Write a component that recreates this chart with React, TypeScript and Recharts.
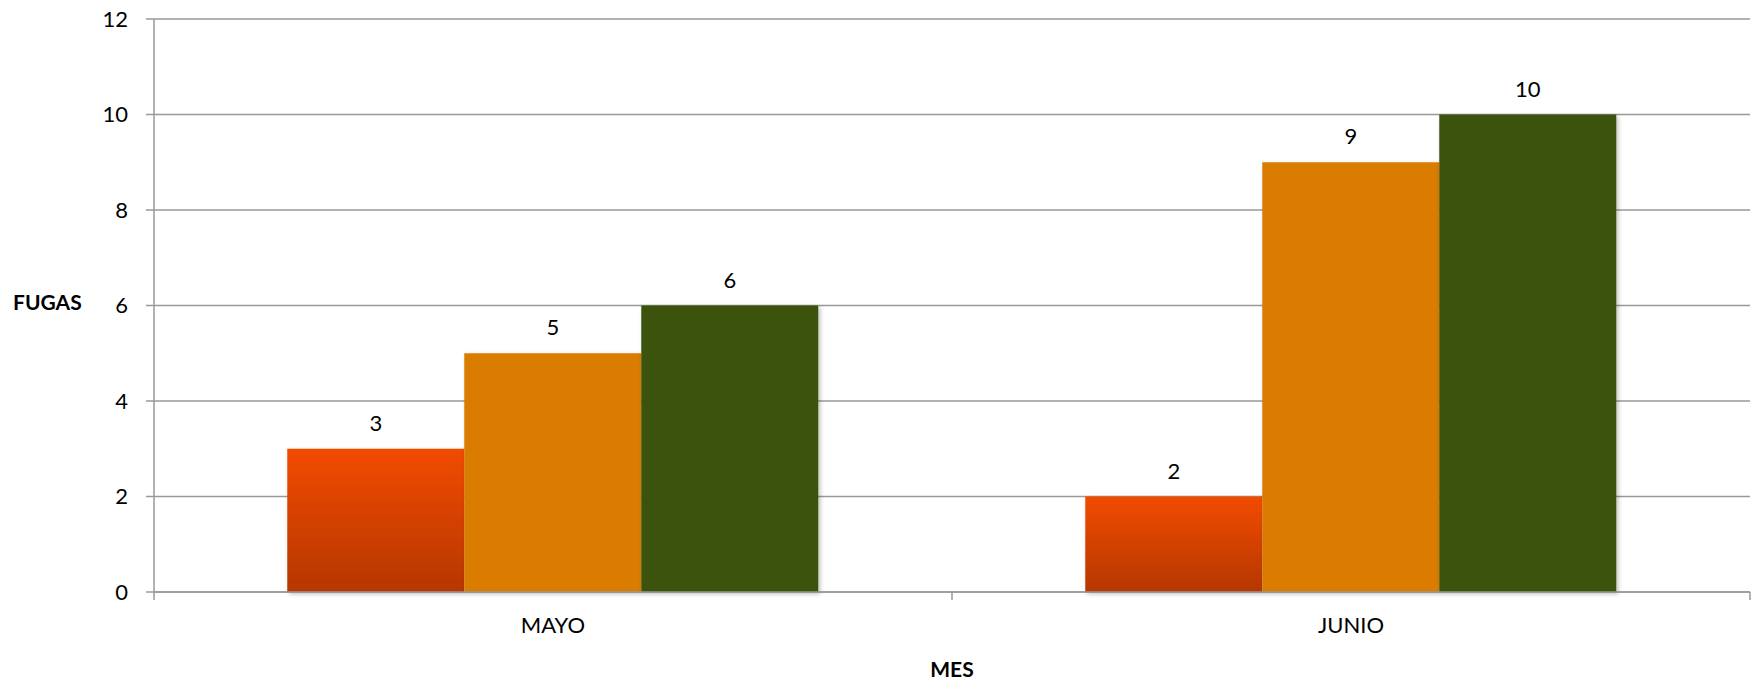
import React from 'react';
import {
  BarChart,
  Bar,
  XAxis,
  YAxis,
  CartesianGrid,
  LabelList
} from 'recharts';

const months = ['MAYO', 'JUNIO'];
const serieRoja = [3, 2];
const serieNaranja = [5, 9];
const serieVerde = [6, 10];
const yTicks = [0, 2, 4, 6, 8, 10, 12];

const chartData = months.map((mes, i) => ({
  mes,
  roja: serieRoja[i],
  naranja: serieNaranja[i],
  verde: serieVerde[i],
}));

const FONT = 'Lato, "Open Sans", sans-serif';
const textStyle = { fill: '#000', fontSize: 22, fontFamily: FONT };
const AXIS_GRAY = '#999';

// month label centred, tick marks drawn on the band edges (Excel style)
const MonthTick = (props: any) => {
  const { x, y, payload, index, visibleTicksCount, width } = props;
  const half =
    payload && typeof payload.offset === 'number' && payload.offset > 0
      ? payload.offset
      : width / (visibleTicksCount || months.length) / 2;
  const isLast = index === (visibleTicksCount || months.length) - 1;
  return (
    <g>
      <line x1={x - half} y1={y - 25} x2={x - half} y2={y - 17} stroke={AXIS_GRAY} strokeWidth={1.5} />
      {isLast && (
        <line x1={x + half} y1={y - 25} x2={x + half} y2={y - 17} stroke={AXIS_GRAY} strokeWidth={1.5} />
      )}
      <text x={x} y={y} dy="0.71em" textAnchor="middle" {...textStyle}>
        {payload.value}
      </text>
    </g>
  );
};

const App: React.FC = () => {
  return (
    <div style={{ position: 'absolute', left: 0, top: 0, background: '#fff' }}>
      <BarChart
        width={1756}
        height={683}
        data={chartData}
        margin={{ top: 19, right: 6, left: 0, bottom: 0 }}
        barCategoryGap="16.7%"
        barGap={0}
      >
        <defs>
          <linearGradient id="gradRoja" x1="0" y1="0" x2="0" y2="1">
            <stop offset="0%" stopColor="#F24B00" />
            <stop offset="100%" stopColor="#B53700" />
          </linearGradient>
          <filter id="barShadow" x="-10%" y="-10%" width="130%" height="130%">
            <feDropShadow dx="2" dy="2" stdDeviation="2" floodColor="#000" floodOpacity="0.25" />
          </filter>
        </defs>
        <CartesianGrid
          vertical={false}
          stroke={AXIS_GRAY}
          strokeWidth={1.5}
        />
        <XAxis
          dataKey="mes"
          height={91}
          axisLine={{ stroke: AXIS_GRAY, strokeWidth: 1.5 }}
          tickLine={false}
          tickSize={8}
          tickMargin={17}
          tick={<MonthTick />}
          label={{
            value: 'MES',
            position: 'insideBottom',
            offset: 6,
            style: { ...textStyle, fontWeight: 700, fontSize: 21 },
          }}
        />
        <YAxis
          width={154}
          domain={[0, 12]}
          ticks={yTicks}
          axisLine={{ stroke: AXIS_GRAY, strokeWidth: 1.5 }}
          tickLine={{ stroke: AXIS_GRAY, strokeWidth: 1.5 }}
          tickSize={8}
          tickMargin={18}
          tick={textStyle}
          label={{
            value: 'FUGAS',
            position: 'insideLeft',
            angle: 0,
            offset: 13,
            dy: -3,
            style: { ...textStyle, fontWeight: 700, fontSize: 21, textAnchor: 'start' },
          }}
        />
        <Bar dataKey="roja" fill="url(#gradRoja)" filter="url(#barShadow)" isAnimationActive={false}>
          <LabelList dataKey="roja" position="top" offset={18} style={textStyle} />
        </Bar>
        <Bar dataKey="naranja" fill="#D97B00" filter="url(#barShadow)" isAnimationActive={false}>
          <LabelList dataKey="naranja" position="top" offset={18} style={textStyle} />
        </Bar>
        <Bar dataKey="verde" fill="#3B520A" filter="url(#barShadow)" isAnimationActive={false}>
          <LabelList dataKey="verde" position="top" offset={18} style={textStyle} />
        </Bar>
      </BarChart>
    </div>
  );
};

export default App;
